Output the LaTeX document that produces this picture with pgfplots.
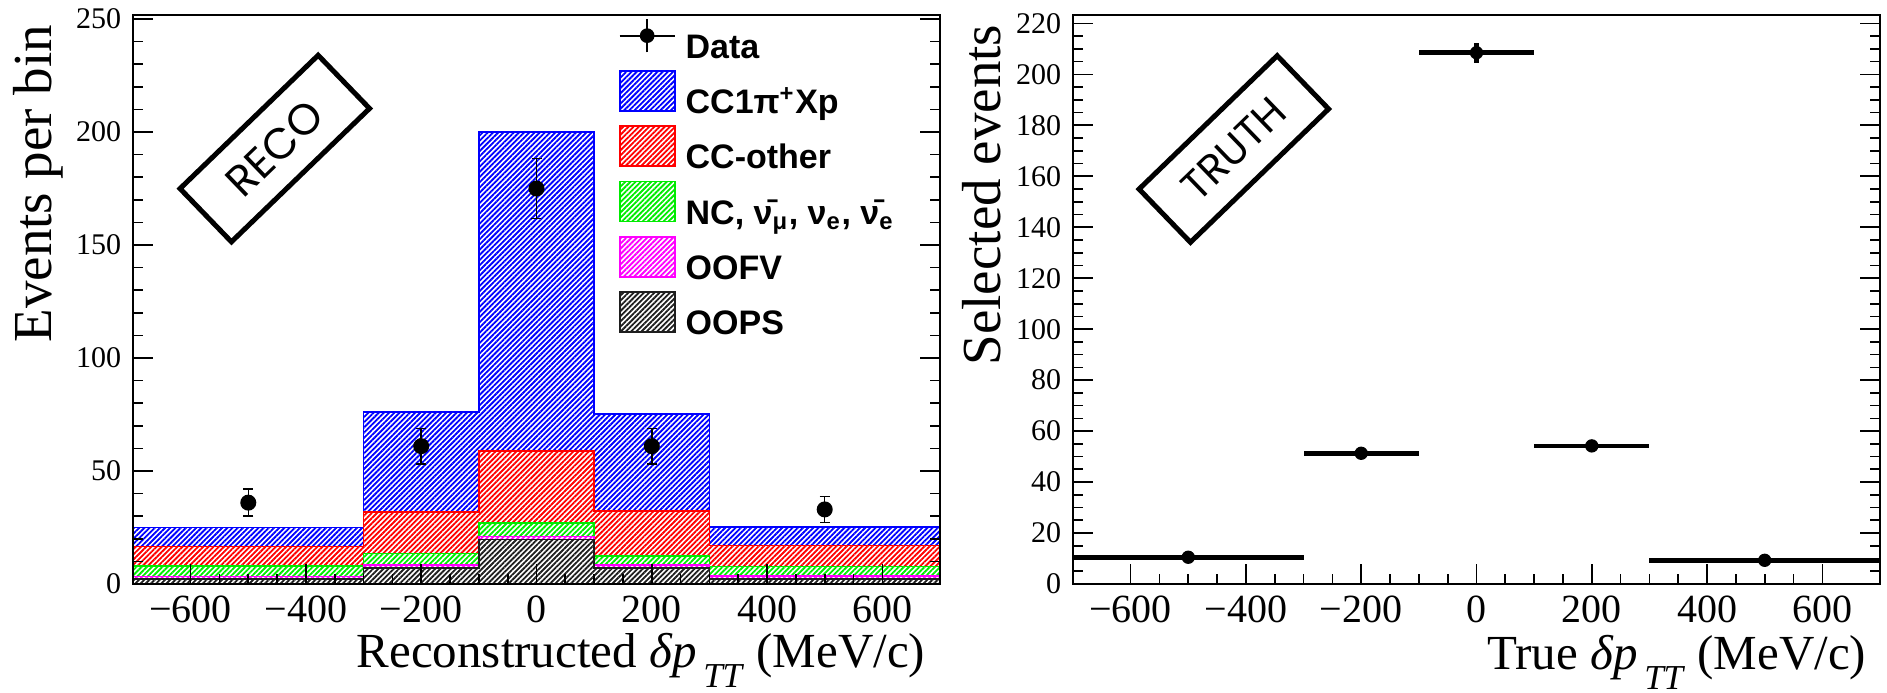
\documentclass[border=0pt]{standalone}
\usepackage{fontspec}
\setmainfont{Liberation Serif}
\newfontfamily\legfont{Liberation Sans}
\newfontfamily\boxfont{Poppins}
\usepackage{pgfplots}
\pgfplotsset{compat=1.18}
\usetikzlibrary{patterns.meta,calc}
\definecolor{rblue}{RGB}{0,0,255}
\definecolor{rred}{RGB}{255,0,0}
\definecolor{rgreen}{RGB}{0,235,0}
\definecolor{rmag}{RGB}{255,0,255}
\definecolor{rblack}{RGB}{30,30,30}
\tikzset{hatch/.style={draw=#1, line width=0.5pt, preaction={fill=white},
  pattern={Lines[angle=45,distance=1.1pt,line width=0.55pt]}, pattern color=#1}}
\pgfplotsset{
 hleg/.style={legend image code/.code={\draw[hatch=#1] (0pt,-2.5pt) rectangle (16.5pt,9.5pt);}},
 rootaxis/.style={
  scale only axis, width=242.1pt, height=170.7pt,
  xmin=-700, xmax=700, ymin=0,
  xtick={-600,-400,...,600},
  xticklabels={−600,−400,−200,0,200,400,600},
  minor x tick num=3,
  tick align=inside, xtick pos=left, ytick pos=both,
  major tick length=6pt, minor tick length=3pt,
  axis on top,
  axis line style={line width=0.6pt},
  every tick/.style={line width=0.5pt, black},
  /pgf/number format/assume math mode=true,
  yticklabel style={font=\fontsize{9}{10}\selectfont},
  xticklabel style={font=\fontsize{12}{14}\selectfont},
  xlabel style={font=\fontsize{14.7}{16}\selectfont, anchor=base east},
  ylabel style={font=\fontsize{16.5}{18}\selectfont, anchor=base east},
  scaled ticks=false,
 }
}
\newcommand{\dpTT}{\textit{δp}\kern2pt\raisebox{-6pt}{\fontsize{10.5}{12}\selectfont\textit{TT}}}
\begin{document}
\begin{tikzpicture}
\path[use as bounding box] (0,0) rectangle (566.1pt,-207.9pt);
% ---------------- RECO panel ----------------
\begin{axis}[rootaxis, at={(39.9pt,-175.2pt)}, anchor=south west,
  ymax=251.8, ytick={0,50,...,250}, minor y tick num=4,
  xlabel={Reconstructed \dpTT\ (MeV/c)},
  ylabel={Events per bin},
  xlabel style={at={($(rel axis cs:1,0)+(-0.9pt,-25.2pt)$)}},
  ylabel style={at={($(rel axis cs:0,1)+(-24.6pt,0.6pt)$)}},
  legend style={at={(rel axis cs:0.601,1)}, anchor=north west, draw=none, fill=none,
    inner sep=0pt, row sep=1.1pt, column sep=3pt,
    font=\legfont\bfseries\fontsize{10.2}{12}\selectfont,
    nodes={inner sep=0pt, text height=9pt, text depth=2.5pt}},
  legend cell align=left]
\addlegendimage{legend image code/.code={
  \path[draw=none,fill=none] (0pt,-2.5pt) rectangle (16.5pt,9.5pt);
  \draw[line width=0.6pt] (0pt,3.5pt)--(16.5pt,3.5pt);
  \draw[line width=0.6pt] (8.25pt,-1.5pt)--(8.25pt,8.5pt);
  \fill (8.25pt,3.5pt) circle (2pt);}}
\addlegendentry{Data}
% cumulative stack tops per bin: [-700,-300],[-300,-100],[-100,100],[100,300],[300,700]
\addplot[hatch=rblue, hleg=rblue, const plot] coordinates
  {(-700,25.0) (-300,76.0) (-100,200.0) (100,75.3) (300,25.2) (700,25.2)} \closedcycle;
\addlegendentry{CC1π\textsuperscript{+}Xp}
\addplot[hatch=rred, hleg=rred, const plot] coordinates
  {(-700,16.6) (-300,32.0) (-100,59.0) (100,32.2) (300,17.0) (700,17.0)} \closedcycle;
\addlegendentry{CC-other}
\addplot[hatch=rgreen, hleg=rgreen, const plot] coordinates
  {(-700,8.0) (-300,13.5) (-100,27.0) (100,12.5) (300,7.8) (700,7.8)} \closedcycle;
\addlegendentry{NC, \={ν}\textsubscript{μ}, ν\textsubscript{e}, \={ν}\textsubscript{e}}
\addplot[hatch=rmag, hleg=rmag, const plot] coordinates
  {(-700,3.3) (-300,8.3) (-100,21.0) (100,8.4) (300,3.6) (700,3.6)} \closedcycle;
\addlegendentry{OOFV}
\addplot[hatch=rblack, hleg=rblack, const plot] coordinates
  {(-700,2.3) (-300,7.1) (-100,19.7) (100,7.0) (300,2.2) (700,2.2)} \closedcycle;
\addlegendentry{OOPS}
\addplot[forget plot, only marks, mark=*, mark size=2.2pt, black,
  error bars/.cd, y dir=both, y explicit,
  error bar style={line width=0.45pt, black},
  error mark options={rotate=90, mark size=1.5pt, line width=0.45pt, black}]
  coordinates {(-500,36) +- (0,6.0) (-200,61) +- (0,7.8) (0,175) +- (0,13.2)
               (200,61) +- (0,7.8) (500,33) +- (0,5.7)};
\node[draw, line width=1.5pt, minimum width=57.6pt, minimum height=22.2pt,
  rotate=44, font=\boxfont\fontsize{13}{15}\selectfont] at (axis cs:-454,192.7) {RECO};
\end{axis}
% ---------------- TRUTH panel ----------------
\begin{axis}[rootaxis, at={(321.9pt,-175.2pt)}, anchor=south west,
  ymax=223.3, ytick={0,20,...,220}, minor y tick num=3,
  xlabel={True \dpTT\ (MeV/c)},
  ylabel={Selected events},
  xlabel style={at={($(rel axis cs:1,0)+(-0.6pt,-25.6pt)$)}},
  ylabel style={at={($(rel axis cs:0,1)+(-21.7pt,0.6pt)$)}}]
\addplot[only marks, mark=*, mark size=1.8pt, black,
  error bars/.cd, x dir=both, x explicit, y dir=both, y explicit,
  error mark=none, error bar style={line width=1.4pt, black}]
  coordinates {(-500,10.5) +- (200,0.8) (-200,51.3) +- (100,1.5) (0,208.5) +- (100,4.0)
               (200,54.2) +- (100,1.5) (500,9.3) +- (200,0.8)};
\node[draw, line width=1.5pt, minimum width=57.6pt, minimum height=22.2pt,
  rotate=44, font=\boxfont\fontsize{12.5}{15}\selectfont] at (axis cs:-421,170.7) {TRUTH};
\end{axis}
\end{tikzpicture}
\end{document}
